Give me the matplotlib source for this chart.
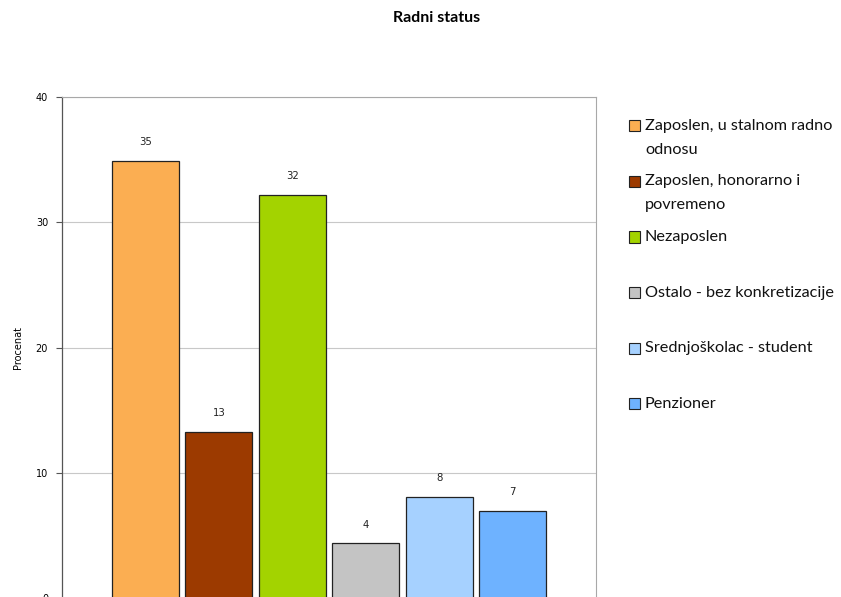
import matplotlib
matplotlib.use("Agg")
import matplotlib.pyplot as plt
from matplotlib.patches import Rectangle

# ── Data ─────────────────────────────────────────────────────────────
categories = [
    "Zaposlen, u stalnom radno\nodnosu",
    "Zaposlen, honorarno i\npovremeno",
    "Nezaposlen",
    "Ostalo - bez konkretizacije",
    "Srednjoškolac - student",
    "Penzioner",
]
values = [34.9, 13.3, 32.2, 4.4, 8.1, 7.0]
colors = ["#FBAE52", "#9C3A00", "#A3D300", "#C4C4C4", "#A6D1FF", "#6EB2FF"]
y_ticks = [0, 10, 20, 30, 40]

W, H = 841, 597
fig = plt.figure(figsize=(W / 100, H / 100), dpi=100)

# plot area in pixel terms -> figure fractions
left, right, top, bottom = 62, 596, 97, 598.5
ax = fig.add_axes([left / W, (H - bottom) / H, (right - left) / W, (bottom - top) / H])

step = 0.1376
width = 0.1255
xs = [(i - (len(values) - 1) / 2) * step for i in range(len(values))]
ax.bar(xs, values, width, color=colors, edgecolor="#222222", linewidth=0.9, zorder=3)

for x, v in zip(xs, values):
    ax.text(x, v + 1.1, f"{v:.0f}", ha="center", va="bottom",
            fontsize=7.3, family="DejaVu Sans", color="#222222")

ax.set_xlim(-0.5, 0.5)
ax.set_ylim(0, 40)
ax.set_yticks(y_ticks)
ax.set_xticks([])
ax.tick_params(axis="y", direction="out", length=4, width=0.8, color="#555555",
               labelsize=7, pad=6)
ax.set_ylabel("Procenat", fontsize=7, labelpad=9)
ax.grid(axis="y", color="#C8C8C8", linewidth=0.8)
ax.set_axisbelow(True)

ax.spines["left"].set_color("#555555")
ax.spines["left"].set_linewidth(0.9)
ax.spines["right"].set_color("#A8A8A8")
ax.spines["top"].set_color("#A8A8A8")
ax.spines["bottom"].set_visible(False)

fig.text(437 / W, 1 - 18 / H, "Radni status", ha="center", va="center",
         fontsize=11.5, fontweight="bold", family="Lato")

# ── Legend (square aligned with first text line) ─────────────────────
legend_first_y = 126
legend_step = 55.5
line_gap = 24
for i, (label, c) in enumerate(zip(categories, colors)):
    y = legend_first_y + i * legend_step
    fig.patches.append(Rectangle((629 / W, 1 - (y + 5.5) / H), 11 / W, 11 / H,
                                 transform=fig.transFigure, facecolor=c,
                                 edgecolor="#222222", linewidth=0.8))
    for j, line in enumerate(label.split("\n")):
        fig.text(645 / W, 1 - (y + j * line_gap) / H, line, ha="left", va="center",
                 fontsize=11.7, family="Lato", color="#111111")

fig.savefig("out.png", dpi=100)
